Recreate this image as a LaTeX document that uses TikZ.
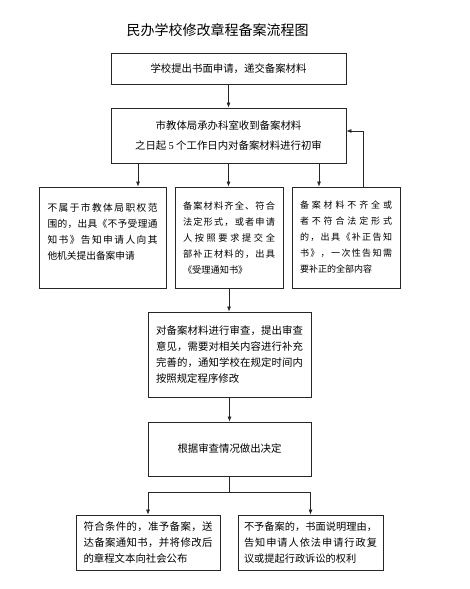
\documentclass[tikz,border=0pt]{standalone}
\usepackage{fontspec}
\setmainfont{Noto Sans CJK SC}
\newfontfamily\latn{Liberation Serif}
\usetikzlibrary{arrows.meta}
\def\jlgobble#1{}
\def\jla#1#2{#1\ifx\relax#2\expandafter\jlgobble\else\hfil\expandafter\jla\fi{#2}}
\newcommand\jl[2]{\noindent\hbox to #1{\jla#2\relax}}
\tikzset{
  box/.style={draw=black!85, line width=0.8pt, inner sep=0pt},
  arr/.style={-{Latex[length=5pt,width=4pt]}, line width=0.7pt, draw=black!85},
  conn/.style={line width=0.7pt, draw=black!85},
  fs/.style={font=\fontsize{#1}{16}\selectfont}
}
\begin{document}
\begin{tikzpicture}[x=1pt,y=-1pt]
\useasboundingbox (0,0) rectangle (469,589);
\node[font=\fontsize{14}{16}\selectfont] (title) at (217.5,30) {民办学校修改章程备案流程图};
\node[box, minimum width=235pt, minimum height=31pt, font=\fontsize{10.4}{16}\selectfont] (b1) at (228.5,68.5) {学校提出书面申请，递交备案材料};
\node[box, minimum width=235pt, minimum height=55pt, align=center, font=\fontsize{10.4}{20}\selectfont] (b2) at (228.5,135.5) {市教体局承办科室收到备案材料\\之日起 {\latn 5} 个工作日内对备案材料进行初审};
\node[box, minimum width=127pt, minimum height=101pt, text width=110pt, align=left, fs=9.7] (b3) at (102.5,237.5) {\jl{110pt}{不属于市教体局职权范}\\\jl{110pt}{围的，出具《不予受理通}\\\jl{110pt}{知书》告知申请人向其}\\他机关提出备案申请\\[-4pt]\mbox{}};
\node[box, minimum width=108pt, minimum height=101pt, text width=92pt, align=left, fs=9.2] (b4) at (229,237.5) {\jl{92pt}{备案材料齐全、符合}\\\jl{92pt}{法定形式，或者申请}\\\jl{92pt}{人按照要求提交全}\\\jl{92pt}{部补正材料的，出具}\\《受理通知书》};
\node[box, minimum width=108pt, minimum height=101pt, text width=92pt, align=left, fs=9] (b5) at (346,237.5) {\jl{92pt}{备案材料不齐全或}\\\jl{92pt}{者不符合法定形式}\\\jl{92pt}{的，出具《补正告知}\\\jl{92pt}{书》，一次性告知需}\\要补正的全部内容};
\node[box, minimum width=163pt, minimum height=85pt, text width=147pt, align=left, fs=10.4] (b6) at (229.5,354.5) {\jl{147pt}{对备案材料进行审查，提出审查}\\\jl{147pt}{意见，需要对相关内容进行补充}\\\jl{147pt}{完善的，通知学校在规定时间内}\\按照规定程序修改};
\node[box, minimum width=163pt, minimum height=54pt, font=\fontsize{10.4}{16}\selectfont] (b7) at (229.5,449) {根据审查情况做出决定};
\node[box, minimum width=144pt, minimum height=55pt, text width=129pt, align=left, fs=10.4] (b8) at (148,542.5) {\jl{129pt}{符合条件的，准予备案，送}\\\jl{129pt}{达备案通知书，并将修改后}\\的章程文本向社会公布};
\node[box, minimum width=145pt, minimum height=55pt, text width=133pt, align=left, fs=10.2] (b9) at (310.5,542.5) {\jl{133pt}{不予备案的，书面说明理由，}\\\jl{133pt}{告知申请人依法申请行政复}\\议或提起行政诉讼的权利};
\coordinate (xa) at (138,0);
\coordinate (xc) at (319,0);
\coordinate (xf) at (363,0);
\draw[arr] (b1.south) -- (b1.south |- b2.north);
\draw[arr] (b2.south -| xa) -- (b3.north -| xa);
\draw[arr] (b2.south) -- (b2.south |- b4.north);
\draw[arr] (b2.south -| xc) -- (b5.north -| xc);
\draw[arr] (b5.north -| xf) |- ([yshift=4.5pt]b2.east);
\draw[arr] (b4.south) -- (b4.south |- b6.north);
\draw[arr] (b6.south) -- (b6.south |- b7.north);
\draw[conn] (b7.south) -- ++(0,16) coordinate (j);
\draw[arr] (j) -| (b8.north);
\draw[arr] (j) -| (b9.north);
\end{tikzpicture}
\end{document}
